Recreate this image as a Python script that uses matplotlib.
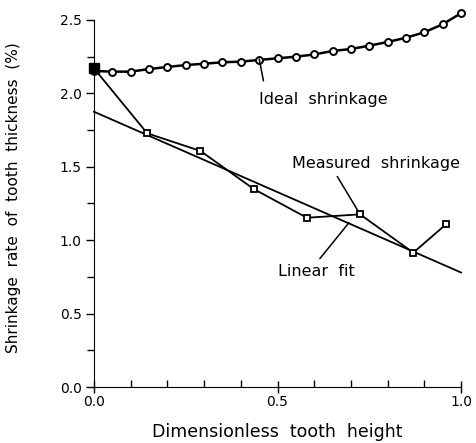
import matplotlib
matplotlib.use("Agg")
import matplotlib.pyplot as plt
from matplotlib.ticker import MultipleLocator

# ideal shrinkage, 21 points along the tooth height
ideal_x = [0.0, 0.05, 0.1, 0.15, 0.2, 0.25, 0.3, 0.35, 0.4, 0.45, 0.5,
           0.55, 0.6, 0.65, 0.7, 0.75, 0.8, 0.85, 0.9, 0.95, 1.0]
ideal_y = [2.153, 2.148, 2.148, 2.166, 2.18, 2.193, 2.202, 2.212, 2.216, 2.228, 2.239,
           2.25, 2.265, 2.289, 2.302, 2.325, 2.35, 2.379, 2.416, 2.471, 2.546]

# measured shrinkage
meas_x = [0.0, 0.145, 0.29, 0.435, 0.58, 0.725, 0.87, 0.96]
meas_y = [2.17, 1.728, 1.608, 1.349, 1.153, 1.176, 0.915, 1.11]

# linear fit end points
fit_x = [0.0, 1.0]
fit_y = [1.875, 0.78]

plt.rcParams["font.family"] = ["DejaVu Sans"]

fig = plt.figure(figsize=(4.76, 4.43), dpi=100)
ax = fig.add_axes([0.1975, 0.1264, 0.771, 0.8285])

ax.plot(fit_x, fit_y, color="black", lw=1.3, clip_on=False)
ax.plot(meas_x, meas_y, color="black", lw=1.3, marker="s", ms=5,
        mfc="white", mec="black", mew=1.3, clip_on=False, zorder=3)
ax.plot(ideal_x, ideal_y, color="black", lw=1.8, marker="o", ms=5,
        mfc="white", mec="black", mew=1.4, clip_on=False, zorder=3)

# filled marker at the start of the measured series
ax.plot(meas_x[:1], meas_y[:1], marker="s", ms=7, color="black",
        ls="none", clip_on=False, zorder=4)

ax.set_xlim(0, 1.0)
ax.set_ylim(0, 2.5)

ax.spines["top"].set_visible(False)
ax.spines["right"].set_visible(False)

ax.xaxis.set_major_locator(MultipleLocator(0.5))
ax.xaxis.set_minor_locator(MultipleLocator(0.1))
ax.yaxis.set_major_locator(MultipleLocator(0.5))
ax.yaxis.set_minor_locator(MultipleLocator(0.25))
ax.xaxis.set_major_formatter(plt.FormatStrFormatter("%.1f"))
ax.yaxis.set_major_formatter(plt.FormatStrFormatter("%.1f"))

ax.tick_params(axis="x", which="major", direction="inout", length=8, width=1, labelsize=10, pad=2)
ax.tick_params(axis="x", which="minor", direction="in", length=5, width=1)
ax.tick_params(axis="y", which="major", direction="out", length=6, width=1, labelsize=10, pad=3)
ax.tick_params(axis="y", which="minor", direction="out", length=5, width=1)

ax.set_xlabel("Dimensionless  tooth  height", fontsize=12.5, labelpad=10)
ax.set_ylabel("Shrinkage  rate  of  tooth  thickness  (%)", fontsize=11)
ax.yaxis.set_label_coords(-0.2, 0.515)

# annotations with leader lines
ax.annotate("Ideal  shrinkage", xy=(0.45, 2.235), xytext=(0.45, 1.96),
            fontsize=11.5, ha="left", va="center",
            arrowprops=dict(arrowstyle="-", color="black", lw=1.1,
                            shrinkA=6, shrinkB=0, relpos=(0.05, 1.0)))
ax.annotate("Measured  shrinkage", xy=(0.725, 1.176), xytext=(0.54, 1.52),
            fontsize=11.5, ha="left", va="center",
            arrowprops=dict(arrowstyle="-", color="black", lw=1.1,
                            shrinkA=2, shrinkB=3, relpos=(0.25, 0.0)))
ax.annotate("Linear  fit", xy=(0.695, 1.12), xytext=(0.5, 0.79),
            fontsize=11.5, ha="left", va="center",
            arrowprops=dict(arrowstyle="-", color="black", lw=1.1,
                            shrinkA=2, shrinkB=0, relpos=(0.5, 1.0)))

fig.savefig("out.png", dpi=100)
